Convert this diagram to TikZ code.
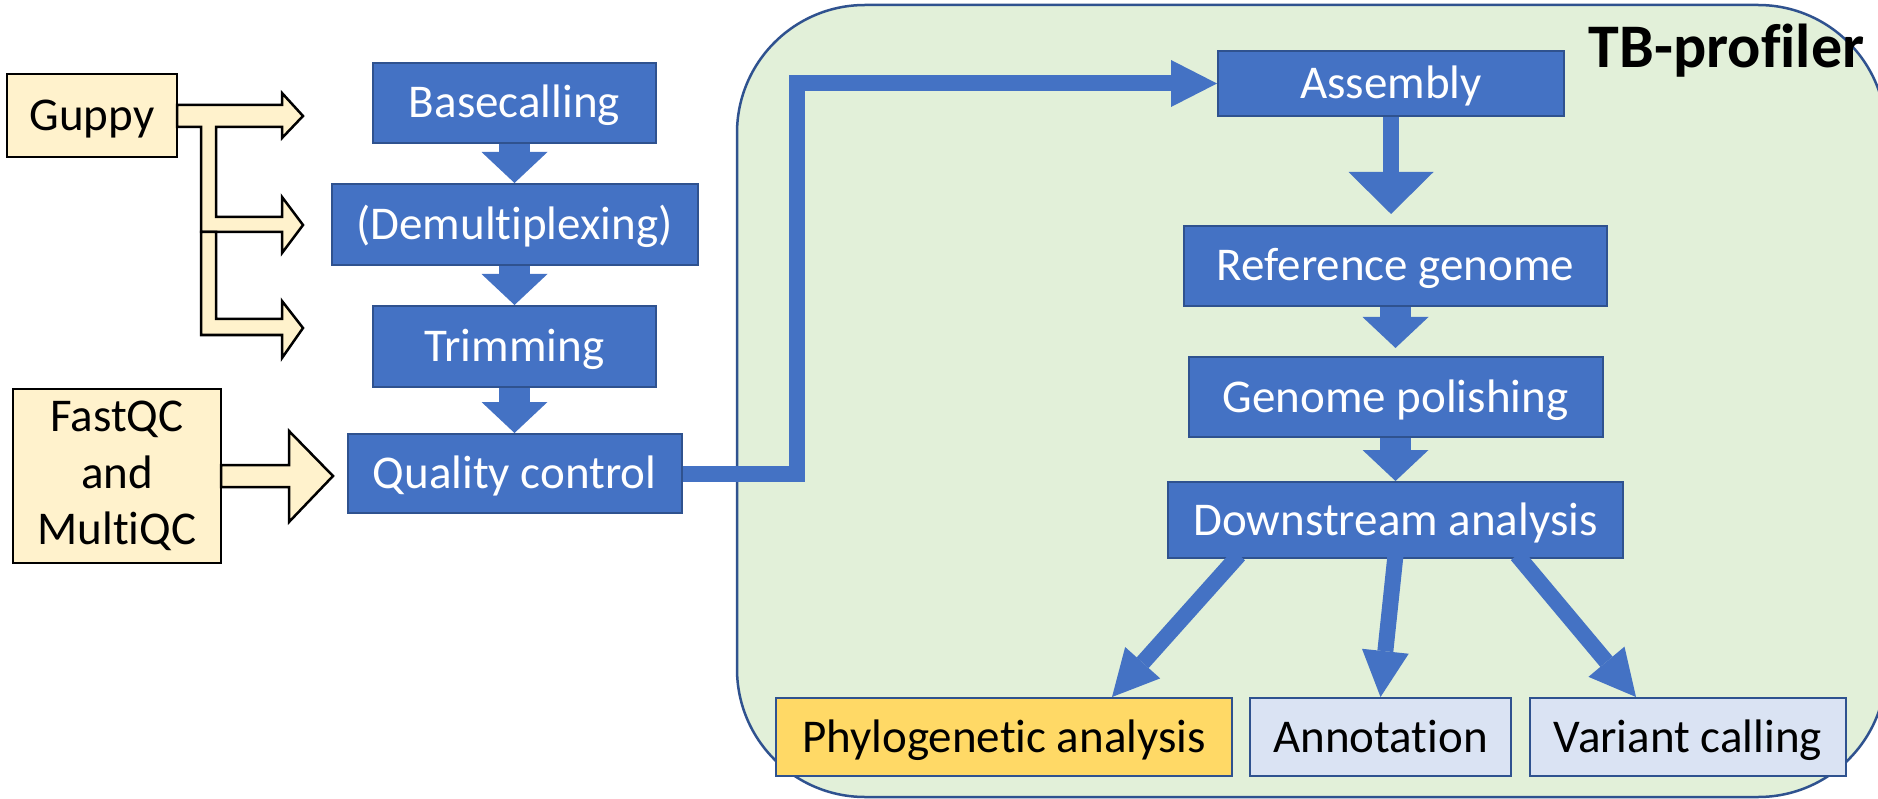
\documentclass[tikz,border=0pt]{standalone}
\usepackage{fontspec}
\setmainfont{Carlito}[Ligatures={NoCommon}]
\usepackage{tikz}
\usetikzlibrary{arrows.meta}
\definecolor{blueoffice}{HTML}{4472C4}
\definecolor{bluedark}{HTML}{2F528F}
\definecolor{greenbg}{HTML}{E2F0D9}
\definecolor{toolyellow}{HTML}{FFF2CC}
\definecolor{phylogold}{HTML}{FFD966}
\definecolor{resultblue}{HTML}{DAE3F3}
\tikzstyle{fixtext}=[text height=30pt, text depth=0pt]
\tikzstyle{stage}=[draw=bluedark, fill=blueoffice, line width=2pt, text=white, inner sep=0, fixtext]
\tikzstyle{result}=[draw=bluedark, line width=2pt, inner sep=0, minimum height=78pt, fixtext]
\tikzstyle{tool}=[draw=black, fill=toolyellow, line width=2.5pt, inner sep=0]
\tikzstyle{hollow}=[draw=black, fill=toolyellow, line width=2.5pt, line join=miter]
\tikzstyle{fatflow}=[line width=31pt, draw=blueoffice, -{Triangle[length=31pt, width=66pt, line width=0pt]}]
\tikzstyle{thinflow}=[line width=16pt, draw=blueoffice, line join=miter,
                      -{Triangle[length=46pt, width=47pt, line width=0pt]}]

\begin{document}
\begin{tikzpicture}[x=1pt, y=-1pt,
                    every node/.style={font=\fontsize{47}{56.5}\selectfont}]
        \clip (0,0) rectangle (1878,799);
        % profiler area
        \draw[fill=greenbg, draw=bluedark, line width=2.5pt, rounded corners=128pt] (737,5) rectangle (1886,797);
        \node[font=\fontsize{62}{70}\selectfont\bfseries, anchor=base] (title) at (1726.5,68) {TB-profiler};

        % tools
        \node[tool, fixtext, minimum width=170pt, minimum height=83pt] (guppy) at (92,115.5) {Guppy};
        \node[tool, align=center, minimum width=208pt, minimum height=174pt] (fastqc) at (117,476) {FastQC\\and\\MultiQC};
        \filldraw[hollow] (177,105) -- (282,105) -- (282,93) -- (303,116) -- (282,138) -- (282,127)
            -- (216,127) -- (216,217) -- (282,217) -- (282,197) -- (303,225) -- (282,253) -- (282,232)
            -- (201,232) -- (201,127) -- (177,127) -- cycle;
        \filldraw[hollow] (201,232) -- (216,232) -- (216,319) -- (282,319) -- (282,301) -- (303,328)
            -- (282,358) -- (282,335) -- (201,335) -- cycle;
        \filldraw[hollow] (221,465) -- (289,465) -- (289,431) -- (333,476) -- (289,522) -- (289,487)
            -- (221,487) -- cycle;

        % read processing
        \node[stage, minimum width=283pt, minimum height=80pt] (basecall) at (514.5,103) {Basecalling};
        \node[stage, minimum width=366pt, minimum height=81pt] (demux) at (514.5,224.5) {(Demultiplexing)};
        \node[stage, minimum width=283pt, minimum height=81pt] (trim) at (514.5,346.5) {Trimming};
        \node[stage, minimum width=334pt, minimum height=79pt] (qc) at (514.5,473.5) {Quality control};

        % profiler steps
        \node[stage, minimum width=346pt, minimum height=65pt] (assembly) at (1391,83.5) {Assembly};
        \node[stage, minimum width=423pt, minimum height=80pt] (refgen) at (1395.5,266) {Reference genome};
        \node[stage, minimum width=414pt, minimum height=80pt] (polish) at (1395.5,397) {Genome polishing};
        \node[stage, minimum width=455pt, minimum height=76pt] (downstream) at (1395.5,520) {Downstream analysis};
        \node[result, fill=phylogold, minimum width=456pt] (phylo) at (1004,737) {Phylogenetic analysis};
        \node[result, fill=resultblue, minimum width=261pt] (annot) at (1380.5,737) {Annotation};
        \node[result, fill=resultblue, minimum width=316pt] (variant) at (1688,737) {Variant calling};

        \draw[fatflow] (basecall) -- (demux);
        \draw[fatflow] (demux) -- (trim);
        \draw[fatflow] (trim) -- (qc);
        \draw[thinflow] (qc.east) -- ++(114,0) |- (assembly.west);
        \draw[thinflow, -{Triangle[length=42pt, width=85pt, line width=0pt]}, shorten >=11pt] (assembly) -- (assembly |- refgen.north);
        \draw[fatflow, shorten >=8pt] (refgen) -- (polish);
        \draw[fatflow] (polish) -- (downstream);
        \draw[thinflow] ([xshift=-156.5pt, yshift=4pt]downstream.south) -- ([xshift=108pt]phylo.north);
        \draw[thinflow] ([yshift=4pt]downstream.south) -- (annot.north);
        \draw[thinflow] ([xshift=121.5pt, yshift=4pt]downstream.south) -- ([xshift=-52pt]variant.north);
\end{tikzpicture}
\end{document}
